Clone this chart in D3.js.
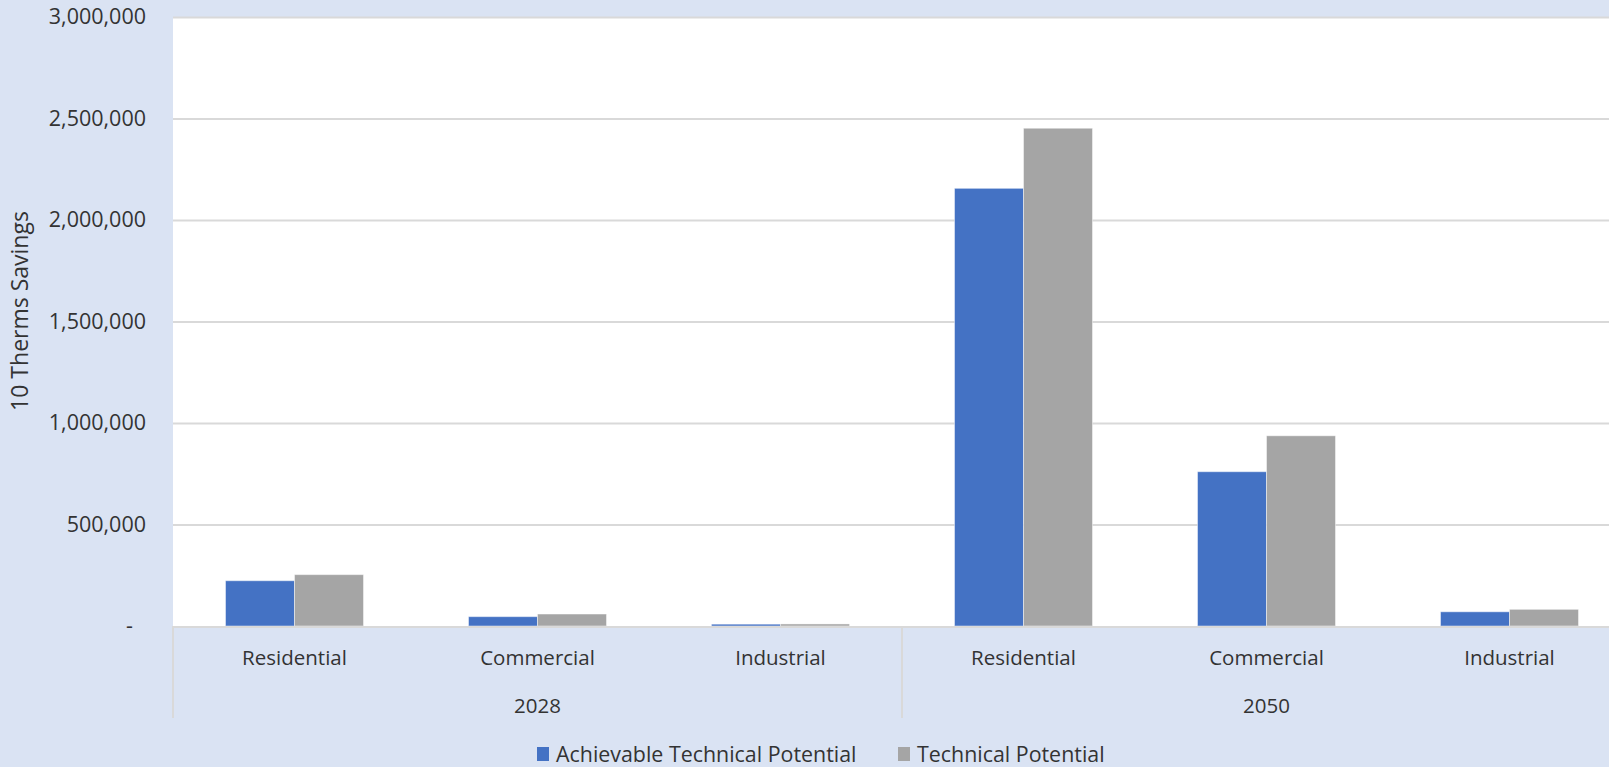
<!DOCTYPE html>
<html>
<head>
<meta charset="utf-8">
<script src="https://cdn.jsdelivr.net/npm/d3@7"></script>
<style>
  html, body { margin: 0; padding: 0; background: #dae3f3; }
  svg { display: block; }
  text { font-family: "Open Sans", "Noto Sans", sans-serif; fill: #333; }
</style>
</head>
<body>
<svg id="chart" width="1609" height="767"></svg>
<script>
// Therms savings by sector and year
const years = ["2028", "2050"];
const sectors = ["Residential", "Commercial", "Industrial"];
const seriesNames = ["Achievable Technical Potential", "Technical Potential"];
const achievable = [223000, 46000, 9000, 2156000, 760000, 70000];
const technical = [253000, 59000, 10000, 2452000, 937000, 82000];
const yTicks = [0, 500000, 1000000, 1500000, 2000000, 2500000, 3000000];
const colors = ["#4472c4", "#a5a5a5"];

const categories = [];
years.forEach(y => sectors.forEach(s => categories.push({ year: y, sector: s, key: y + "-" + s })));
const rows = categories.map((c, i) => ({ ...c, values: [achievable[i], technical[i]] }));

const W = 1609, H = 767;
const plot = { left: 173, top: 17, right: 1631, bottom: 626 };

const svg = d3.select("#chart");
svg.append("rect").attr("width", W).attr("height", H).attr("fill", "#dae3f3");

const x0 = d3.scaleBand().domain(categories.map(c => c.key)).range([plot.left, plot.right]).padding(0);
const x1 = d3.scaleBand().domain(seriesNames).range([0, x0.bandwidth()]).paddingInner(0).paddingOuter(0.761);
const y = d3.scaleLinear().domain([0, 3000000]).range([plot.bottom, plot.top]);

// plot background
svg.append("rect")
  .attr("x", plot.left).attr("y", plot.top)
  .attr("width", plot.right - plot.left).attr("height", plot.bottom - plot.top)
  .attr("fill", "#ffffff");

// horizontal gridlines
const grid = svg.append("g").attr("transform", `translate(${plot.left},0)`)
  .call(d3.axisLeft(y).tickValues(yTicks.filter(d => d > 0)).tickSize(-(plot.right - plot.left)).tickFormat(""));
grid.select(".domain").remove();
grid.selectAll("line").attr("stroke", "#d9d9d9").attr("stroke-width", 2);

// y axis labels
const yAxis = svg.append("g").attr("transform", `translate(${plot.left},0)`)
  .call(d3.axisLeft(y).tickValues(yTicks).tickSize(0).tickPadding(27)
    .tickFormat(d => d === 0 ? "-" : d3.format(",")(d)));
yAxis.select(".domain").remove();
yAxis.selectAll("text").attr("font-size", 21.5).attr("fill", "#333")
  .style("font-family", '"Open Sans", sans-serif');
yAxis.selectAll(".tick").filter(d => d === 0).select("text").attr("dx", -13);

// bars
const groups = svg.append("g").selectAll("g").data(rows).join("g")
  .attr("transform", d => `translate(${x0(d.key)},0)`);
groups.selectAll("rect").data(d => d.values.map((v, i) => ({ name: seriesNames[i], value: v, i })))
  .join("rect")
  .attr("x", d => x1(d.name))
  .attr("y", d => y(d.value))
  .attr("width", x1.bandwidth())
  .attr("height", d => y(0) - y(d.value))
  .attr("fill", d => colors[d.i])
  .attr("stroke", "rgba(255,255,255,0.45)")
  .attr("stroke-width", 1);

// category axis baseline
svg.append("line")
  .attr("x1", plot.left).attr("x2", plot.right)
  .attr("y1", plot.bottom + 1).attr("y2", plot.bottom + 1)
  .attr("stroke", "#d9d9d9").attr("stroke-width", 2);

// group dividers
const dividerX = [plot.left, x0(categories[3].key), plot.right];
svg.append("g").selectAll("line").data(dividerX).join("line")
  .attr("x1", d => d).attr("x2", d => d)
  .attr("y1", plot.bottom).attr("y2", 718)
  .attr("stroke", "#d9d9d9").attr("stroke-width", 2);

// sector labels
svg.append("g").selectAll("text").data(categories).join("text")
  .attr("x", d => x0(d.key) + x0.bandwidth() / 2)
  .attr("y", 658)
  .attr("dy", "0.35em")
  .attr("text-anchor", "middle")
  .attr("font-size", 20.5)
  .text(d => d.sector);

// year labels
svg.append("g").selectAll("text").data(years).join("text")
  .attr("x", (d, i) => (dividerX[i] + dividerX[i + 1]) / 2)
  .attr("y", 706)
  .attr("dy", "0.35em")
  .attr("text-anchor", "middle")
  .attr("font-size", 20.5)
  .text(d => d);

// y axis title
svg.append("text")
  .attr("transform", `translate(20,311) rotate(-90)`)
  .attr("dy", "0.35em")
  .attr("text-anchor", "middle")
  .attr("font-size", 23)
  .text("10 Therms Savings");

// legend
const legendX = [537, 898];
const legend = svg.append("g").selectAll("g").data(seriesNames).join("g")
  .attr("transform", (d, i) => `translate(${legendX[i]},754)`);
legend.append("rect").attr("x", 0).attr("y", -7).attr("width", 12).attr("height", 14)
  .attr("fill", (d, i) => colors[i]);
legend.append("text").attr("x", 19).attr("dy", "0.35em").attr("font-size", 21.4).text(d => d);
</script>
</body>
</html>
